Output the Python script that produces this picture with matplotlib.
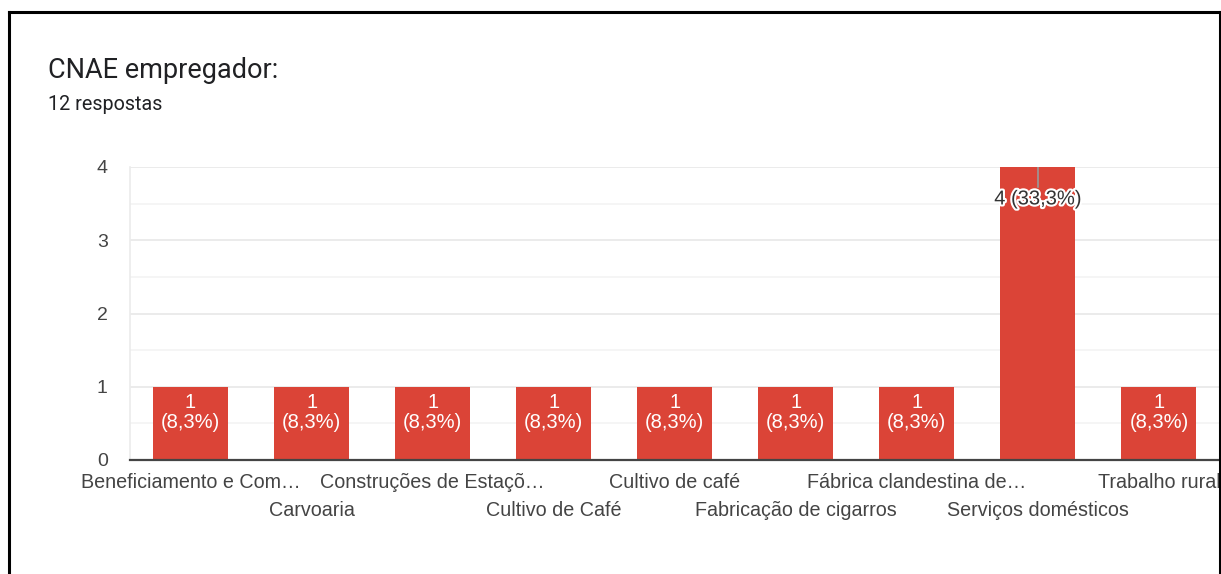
import matplotlib.pyplot as plt
import matplotlib.patheffects as pe
from matplotlib.lines import Line2D

# data
categories = ['Beneficiamento e Com…', 'Carvoaria', 'Construções de Estaçõ…',
              'Cultivo de Café', 'Cultivo de café', 'Fabricação de cigarros',
              'Fábrica clandestina de…', 'Serviços domésticos', 'Trabalho rural']
counts = [1, 1, 1, 1, 1, 1, 1, 4, 1]
total = 12
yticks = [0, 1, 2, 3, 4]

bar_color = '#db4437'
text_color = '#444444'

W, H = 1221, 574
fig = plt.figure(figsize=(W / 100, H / 100), dpi=100)
fig.patch.set_facecolor('white')

# black frame round the card (bottom edge is off the picture)
fig.add_artist(Line2D([9 / W, 9 / W], [0, 1 - 12 / H], color='black', lw=2.2))
fig.add_artist(Line2D([9 / W, 1220 / W], [1 - 12 / H, 1 - 12 / H], color='black', lw=2.2))
fig.add_artist(Line2D([1220 / W, 1220 / W], [0, 1 - 12 / H], color='black', lw=2.2))

fig.text(48 / W, 1 - 71 / H, 'CNAE empregador:', fontsize=19.5, color='#202124',
         family='Roboto', va='center', ha='left')
fig.text(48 / W, 1 - 104 / H, '12 respostas', fontsize=14.2, color='#202124',
         family='Roboto', va='center', ha='left')

ax = fig.add_axes([130 / W, 1 - 460 / H, (1219.5 - 130) / W, (460 - 167) / H])
x = list(range(len(categories)))
ax.bar(x, counts, width=0.62, color=bar_color, zorder=3)
ax.set_xlim(-0.5, len(categories) - 0.5)
ax.set_ylim(0, 4)

ax.set_yticks(yticks)
ax.set_yticks([0.5, 1.5, 2.5, 3.5], minor=True)
ax.grid(axis='y', which='major', color='#e8e8e8', lw=1.2, zorder=0)
ax.grid(axis='y', which='minor', color='#f3f3f3', lw=1.2, zorder=0)
ax.tick_params(axis='y', which='both', length=0, pad=16, labelsize=14,
               labelcolor=text_color)
for lab in ax.get_yticklabels():
    lab.set_family('Liberation Sans')

ax.set_xticks(x)
ax.set_xticklabels(categories, fontsize=14.2, color=text_color, family='Liberation Sans')
ax.tick_params(axis='x', length=0)
for i, t in enumerate(ax.xaxis.get_major_ticks()):
    t.set_pad(9 if i % 2 == 0 else 29.5)

for s in ['top', 'right']:
    ax.spines[s].set_visible(False)
ax.spines['left'].set_color('#ebebeb')
ax.spines['left'].set_linewidth(1.2)
ax.spines['bottom'].set_color('#444444')
ax.spines['bottom'].set_linewidth(1.6)
ax.spines['bottom'].set_zorder(4)

for xi, v in zip(x, counts):
    pct = f'{v / total * 100:.1f}'.replace('.', ',')
    if v == max(counts):
        ax.plot([xi, xi], [v, v - 0.27], color='#999999', lw=1.2, zorder=4)
        t = ax.annotate(f'{v} ({pct}%)', (xi, v), xytext=(0, -23), textcoords='offset points',
                        ha='center', va='center', fontsize=14.5, color='#333333',
                        family='Liberation Sans', zorder=5)
        t.set_path_effects([pe.withStroke(linewidth=3, foreground='white')])
    else:
        ax.annotate(f'{v}\n({pct}%)', (xi, v), xytext=(0, -4.5), textcoords='offset points',
                    ha='center', va='top', fontsize=14.5, color='white',
                    family='Liberation Sans', linespacing=1.05, zorder=5)

fig.savefig('out.png', dpi=100)
